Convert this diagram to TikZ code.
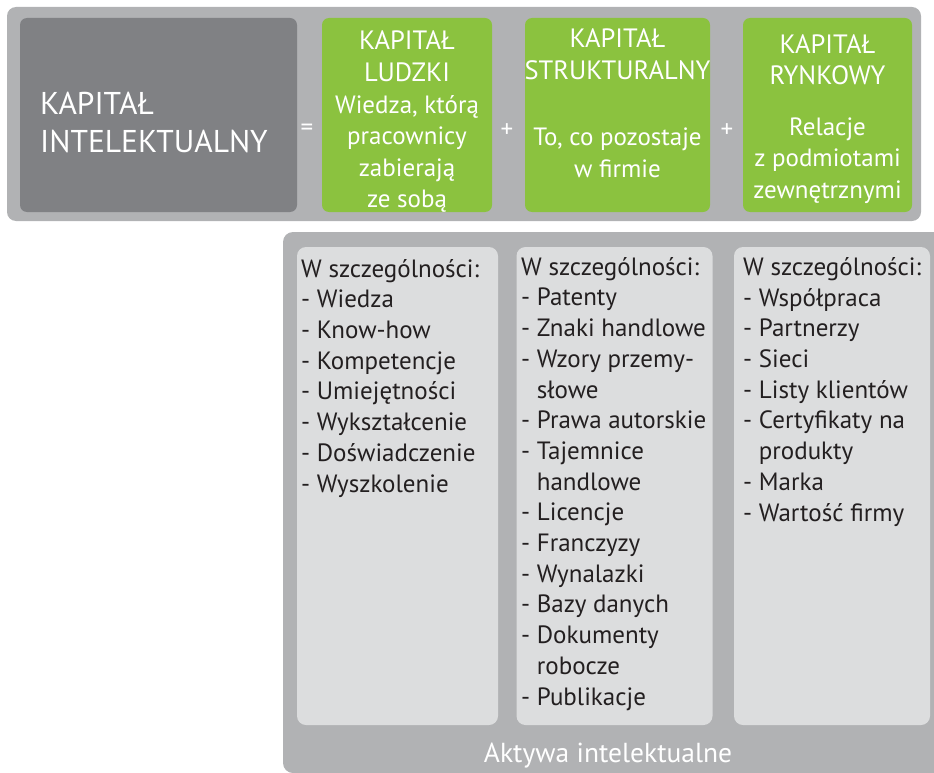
\documentclass[tikz,border=0pt]{standalone}
\usepackage{fontspec}
\setmainfont{PT Sans}
\usepackage{tikz}
\definecolor{bandgray}{RGB}{177,178,180}
\definecolor{icgray}{RGB}{128,129,132}
\definecolor{capgreen}{RGB}{139,194,63}
\definecolor{listgray}{RGB}{220,221,222}
\definecolor{inkgray}{RGB}{35,31,32}
\newcommand{\hang}{\hphantom{- }}
\newcommand{\captitle}[1]{{\fontsize{26.5}{31.5}\selectfont #1}}

\begin{document}
\begin{tikzpicture}[
  x=1pt, y=-1pt,
  band/.style={fill=bandgray, rounded corners=9pt, inner sep=0pt},
  capbox/.style={fill=capgreen, rounded corners=7pt, minimum height=194pt, inner sep=0pt},
  captext/.style={text=white, font=\fontsize{25}{31.5}\selectfont, align=center, anchor=base, inner sep=0pt},
  listbox/.style={fill=listgray, rounded corners=9pt, minimum height=478pt, inner sep=0pt},
  listtext/.style={text=inkgray, font=\fontsize{25}{30.7}\selectfont, align=left, anchor=base west, inner sep=0pt},
  sign/.style={text=white, font=\fontsize{25}{30}\selectfont, inner sep=0pt}]
\useasboundingbox (0,0) rectangle (934,773);
% top row: capital = sum of three parts
\node[band, minimum width=914pt, minimum height=214pt] (top) at (464,114) {};
\node[fill=icgray, rounded corners=7pt, minimum width=277pt, minimum height=194pt, inner sep=0pt] (ic) at (158.5,115) {};
% text nodes sit on the baseline of their last line
\node[text=white, font=\fontsize{31.5}{38}\selectfont, align=left, anchor=base west, inner sep=0pt] (ictext) at (40,153) {KAPITAŁ\\INTELEKTUALNY};
\node[capbox, minimum width=170pt] (hc) at (407,115) {};
\node[capbox, minimum width=185pt] (sc) at (617.5,115) {};
\node[capbox, minimum width=169pt] (rc) at (827.5,115) {};
\node[captext] (hctext) at (407,207.5) {\captitle{KAPITAŁ}\\\captitle{LUDZKI}\\Wiedza, którą\\pracownicy\\zabierają\\ze sobą};
\node[captext] (sctext) at (617.5,177) {\captitle{KAPITAŁ}\\\captitle{STRUKTURALNY}\\[35pt]To, co pozostaje\\w firmie};
\node[captext] (rctext) at (827.5,198) {\captitle{KAPITAŁ}\\\captitle{RYNKOWY}\\[19pt]Relacje\\z podmiotami\\zewnętrznymi};
\node[sign] (eq) at (307,130) {=};
\node[sign] (plus1) at (507,131) {+};
\node[sign] (plus2) at (727,131) {+};
% bottom panel: intellectual assets
\begin{scope}
\clip (0,0) rectangle (934,773);
\node[band, rounded corners=10pt, minimum width=670pt, minimum height=541pt] (panel) at (618,502.5) {};
\end{scope}
\node[listbox, minimum width=201pt] (hl) at (397.5,486) {};
\node[listbox, minimum width=196pt] (sl) at (614.5,486) {};
\node[listbox, minimum width=196pt] (rl) at (832,486) {};
\node[listtext] (hltext) at (301,492) {W szczególności:\\- Wiedza\\- Know-how\\- Kompetencje\\- Umiejętności\\- Wykształcenie\\- Doświadczenie\\- Wyszkolenie};
\node[listtext] (sltext) at (521,705) {W szczególności:\\- Patenty\\- Znaki handlowe\\- Wzory przemy-\\\hang słowe\\- Prawa autorskie\\- Tajemnice\\\hang handlowe\\- Licencje\\- Franczyzy\\- Wynalazki\\- Bazy danych\\- Dokumenty\\\hang robocze\\- Publikacje};
\node[listtext] (rltext) at (743,521) {W szczególności:\\- Współpraca\\- Partnerzy\\- Sieci\\- Listy klientów\\- Certyfikaty na\\\hang produkty\\- Marka\\- Wartość firmy};
\node[text=white, font=\fontsize{27.5}{30}\selectfont, anchor=base, inner sep=0pt] (assets) at (608,762) {Aktywa intelektualne};
\end{tikzpicture}
\end{document}
